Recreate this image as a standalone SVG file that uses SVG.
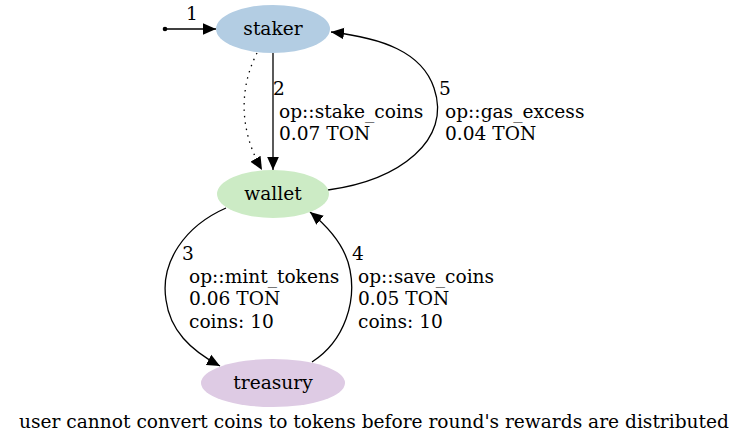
<svg xmlns="http://www.w3.org/2000/svg" width="748" height="445" viewBox="0 0 748 445">
<style>
text{font-family:"DejaVu Serif",serif;font-size:18.6px;fill:#000}
.c{text-anchor:middle}
.e{fill:none;stroke:#000;stroke-width:1.3}
.d{stroke-dasharray:1.5,5}
</style>
<defs>
<marker id="a" viewBox="0 0 10 10" refX="10" refY="5" markerWidth="13" markerHeight="13" markerUnits="userSpaceOnUse" orient="auto"><path d="M0,0.5L10,5L0,9.5z" fill="#000"/></marker>
</defs>
<rect width="748" height="445" fill="#fff"/>
<g id="connectors">
<circle cx="165" cy="29" r="2.3" fill="#000"/>
<path class="e" d="M167,29 L216,29" marker-end="url(#a)"/>
<path class="e d" d="M257,53 C242,82 236,125 262,170" marker-end="url(#a)"/>
<path class="e" d="M273,53 L273,170" marker-end="url(#a)"/>
<path class="e" d="M328,190 C400,180 452,140 434,88 C422,52 382,38 331,32" marker-end="url(#a)"/>
<path class="e" d="M226,208 C185,226 160,262 166,300 C170,330 190,350 220,366" marker-end="url(#a)"/>
<path class="e" d="M312,362 C346,340 356,300 350,270 C346,248 332,230 310,212" marker-end="url(#a)"/>
<text x="186" y="20">1</text>
<text x="273" y="95">2</text>
<text x="279" y="118">op::stake_coins</text>
<text x="279" y="140">0.07 TON</text>
<text x="439" y="95">5</text>
<text x="445" y="118">op::gas_excess</text>
<text x="445" y="140">0.04 TON</text>
<text x="182" y="260">3</text>
<text x="189" y="283">op::mint_tokens</text>
<text x="189" y="305">0.06 TON</text>
<text x="189" y="328">coins: 10</text>
<text x="352" y="260">4</text>
<text x="358" y="283">op::save_coins</text>
<text x="358" y="305">0.05 TON</text>
<text x="358" y="328">coins: 10</text>
</g>
<g id="staker"><ellipse cx="273" cy="29" rx="57" ry="24" fill="#b3cde3"/><text class="c" x="273" y="35">staker</text></g>
<g id="wallet"><ellipse cx="273" cy="194" rx="56" ry="24" fill="#ccebc5"/><text class="c" x="273" y="200">wallet</text></g>
<g id="treasury"><ellipse cx="273" cy="383" rx="72" ry="24" fill="#decbe4"/><text class="c" x="273" y="389">treasury</text></g>
<text class="c" x="374" y="428">user cannot convert coins to tokens before round's rewards are distributed</text>
</svg>
